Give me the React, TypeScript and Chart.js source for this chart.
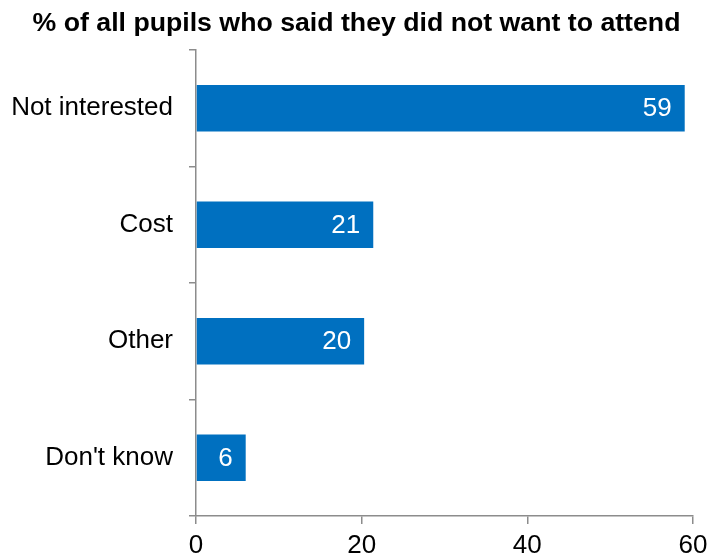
import React, { useEffect, useRef } from "react";
import { Chart, registerables } from "chart.js";

Chart.register(...registerables);

const categories = ["Not interested", "Cost", "Other", "Don't know"];
const values = [59, 21.4, 20.3, 6];
const xTicks = [0, 20, 40, 60];
const titleText = "% of all pupils who said they did not want to attend";

const FONT = "'Liberation Sans', Arial, sans-serif";
const BAR = "#0070C0";
const AXIS = "#8C8C8C";

const dataLabels = {
  id: "dataLabels",
  afterDatasetsDraw(chart: any) {
    const ctx = chart.ctx;
    const meta = chart.getDatasetMeta(0);
    ctx.save();
    ctx.font = `26px ${FONT}`;
    ctx.fillStyle = "#FFFFFF";
    ctx.textAlign = "right";
    ctx.textBaseline = "middle";
    meta.data.forEach((bar: any, i: number) => {
      ctx.fillText(Math.round(values[i]).toString(), bar.x - 13, bar.y + 1);
    });
    ctx.restore();
  },
};

const topTitle = {
  id: "topTitle",
  afterDraw(chart: any) {
    const ctx = chart.ctx;
    ctx.save();
    ctx.font = `bold 26.7px ${FONT}`;
    ctx.fillStyle = "#000000";
    ctx.textAlign = "center";
    ctx.textBaseline = "middle";
    ctx.fillText(titleText, 356.5, 24);
    ctx.restore();
  },
};

export default function App() {
  const ref = useRef<HTMLCanvasElement | null>(null);
  useEffect(() => {
    if (!ref.current) return;
    const chart = new Chart(ref.current, {
      type: "bar",
      data: {
        labels: categories,
        datasets: [
          {
            data: values,
            backgroundColor: BAR,
            borderWidth: 0,
            categoryPercentage: 1,
            barPercentage: 0.4,
          },
        ],
      },
      options: {
        indexAxis: "y",
        animation: false,
        responsive: false,
        maintainAspectRatio: false,
        layout: { padding: { left: 0, right: 14, top: 50, bottom: 0 } },
        plugins: {
          legend: { display: false },
          tooltip: { enabled: false },
          title: { display: false },
        },
        scales: {
          x: {
            min: 0,
            max: 60,
            afterBuildTicks(scale: any) {
              scale.ticks = xTicks.map((v) => ({ value: v }));
            },
            afterFit(scale: any) {
              scale.height = 42;
              scale.paddingLeft = 0;
              scale.paddingRight = 0;
            },
            border: { display: true, color: AXIS, width: 1.5 },
            grid: {
              drawOnChartArea: false,
              drawTicks: true,
              tickLength: 8,
              color: AXIS,
              lineWidth: 1.5,
            },
            ticks: {
              color: "#000000",
              padding: 6,
              maxRotation: 0,
              font: { family: FONT, size: 26 },
            },
          },
          y: {
            afterFit(scale: any) {
              scale.width = 196;
              scale.paddingTop = 0;
              scale.paddingBottom = 0;
            },
            border: { display: true, color: AXIS, width: 1.5 },
            grid: {
              drawOnChartArea: false,
              drawTicks: true,
              tickLength: 7,
              color: AXIS,
              lineWidth: 1.5,
              offset: true,
            },
            ticks: {
              color: "#000000",
              padding: 16,
              font: { family: FONT, size: 26 },
            },
          },
        },
      },
      plugins: [dataLabels, topTitle],
    });
    return () => chart.destroy();
  }, []);
  return (
    <div style={{ position: "absolute", left: 0, top: 0, width: 707, height: 558 }}>
      <canvas ref={ref} width={707} height={558} style={{ width: 707, height: 558 }} />
    </div>
  );
}
